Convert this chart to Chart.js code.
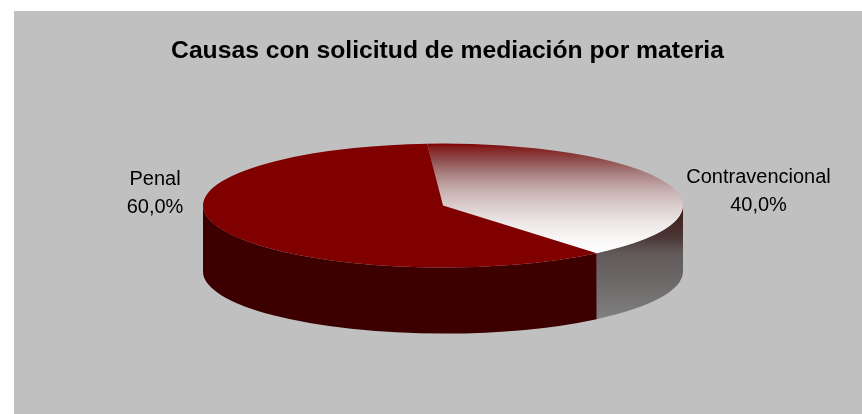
<!DOCTYPE html>
<html><head><meta charset="utf-8">
<style>html,body{margin:0;padding:0;background:#fff}canvas{display:block}</style>
<script src="https://cdn.jsdelivr.net/npm/chart.js@4"></script>
</head><body><div style="width:862px;height:414px;position:relative"><canvas id="c"></canvas></div>
<script>
const titleText = 'Causas con solicitud de mediación por materia';
const categories = ['Contravencional', 'Penal'];
const values = [40, 60];
const firstSliceRotation = -3.8;

const PANEL = {x: 14, y: 11};
const PIE = {cx: 443, cy: 205.5, rx: 240, ry: 62, depth: 66};
const LABEL_POS = [{x: 758.5, y: 177.5}, {x: 155, y: 179.5}];
const LINE_GAP = 28;
const R = 120;

const panelPlugin = {
  id: 'panel',
  beforeDraw(chart) {
    const c = chart.ctx;
    c.save();
    c.fillStyle = '#c0c0c0';
    c.fillRect(PANEL.x, PANEL.y, chart.width - PANEL.x, chart.height - PANEL.y);
    c.restore();
  }
};

function wallFill(c, i) {
  if (i === 1) return '#3c0000';
  const g = c.createLinearGradient(0, PIE.cy, 0, PIE.cy + PIE.ry * 0.76 + PIE.depth + 1);
  g.addColorStop(0, '#401818');
  g.addColorStop(0.27, '#4a3535');
  g.addColorStop(0.42, '#625a5a');
  g.addColorStop(0.66, '#6c6868');
  g.addColorStop(1, '#808080');
  return g;
}

const tiltPlugin = {
  id: 'tilt',
  beforeDatasetsDraw(chart) {
    const c = chart.ctx;
    const arcs = chart.getDatasetMeta(0).data;
    const first = arcs[0].getProps(['x', 'y', 'outerRadius']);
    const sx = PIE.rx / first.outerRadius, sy = PIE.ry / first.outerRadius;
    arcs.forEach((arc, i) => {
      const p = arc.getProps(['startAngle', 'endAngle']);
      const a0 = Math.max(p.startAngle, 0), a1 = Math.min(p.endAngle, Math.PI);
      if (a1 <= a0) return;
      c.beginPath();
      c.ellipse(PIE.cx, PIE.cy, PIE.rx, PIE.ry, 0, a0, a1);
      c.ellipse(PIE.cx, PIE.cy + PIE.depth, PIE.rx, PIE.ry, 0, a1, a0, true);
      c.closePath();
      c.fillStyle = wallFill(c, i);
      c.fill();
    });
    c.save();
    c.translate(PIE.cx, PIE.cy);
    c.scale(sx, sy);
    c.translate(-first.x, -first.y);
  },
  afterDatasetsDraw(chart) {
    const c = chart.ctx;
    c.restore();
    const total = values.reduce((a, b) => a + b, 0);
    c.save();
    c.fillStyle = '#000';
    c.font = '20px "Liberation Sans", Arial, sans-serif';
    c.textAlign = 'center';
    c.textBaseline = 'middle';
    categories.forEach((name, i) => {
      const pct = (values[i] / total * 100).toFixed(1).replace('.', ',') + '%';
      c.fillText(name, LABEL_POS[i].x, LABEL_POS[i].y);
      c.fillText(pct, LABEL_POS[i].x, LABEL_POS[i].y + LINE_GAP);
    });
    c.restore();
  }
};

function topFill(ctx) {
  const chart = ctx.chart;
  if (ctx.dataIndex === 1) return '#800000';
  const area = chart.chartArea;
  if (!area) return '#800000';
  const cy = (area.top + area.bottom) / 2;
  const g = chart.ctx.createLinearGradient(0, cy - R, 0, cy + R * 0.76);
  g.addColorStop(0, '#800000');
  g.addColorStop(0.04, '#822020');
  g.addColorStop(0.156, '#904f4f');
  g.addColorStop(0.275, '#a88080');
  g.addColorStop(0.43, '#c8b0b0');
  g.addColorStop(0.587, '#dcd0d0');
  g.addColorStop(0.734, '#eee8e8');
  g.addColorStop(0.86, '#f8f5f5');
  g.addColorStop(1, '#ffffff');
  return g;
}

new Chart(document.getElementById('c'), {
  type: 'pie',
  data: {
    labels: categories,
    datasets: [{
      data: values,
      backgroundColor: topFill,
      borderWidth: 0,
      radius: R
    }]
  },
  options: {
    responsive: true,
    maintainAspectRatio: false,
    animation: false,
    rotation: firstSliceRotation,
    events: [],
    layout: {padding: {left: 33, right: 0, top: 0, bottom: 0}},
    plugins: {
      legend: {display: false},
      tooltip: {enabled: false},
      title: {
        display: true,
        text: titleText,
        color: '#000',
        font: {family: '"Liberation Sans", Arial, sans-serif', size: 24.7, weight: 'bold'},
        padding: {top: 36, bottom: 10}
      }
    }
  },
  plugins: [panelPlugin, tiltPlugin]
});
</script></body></html>
